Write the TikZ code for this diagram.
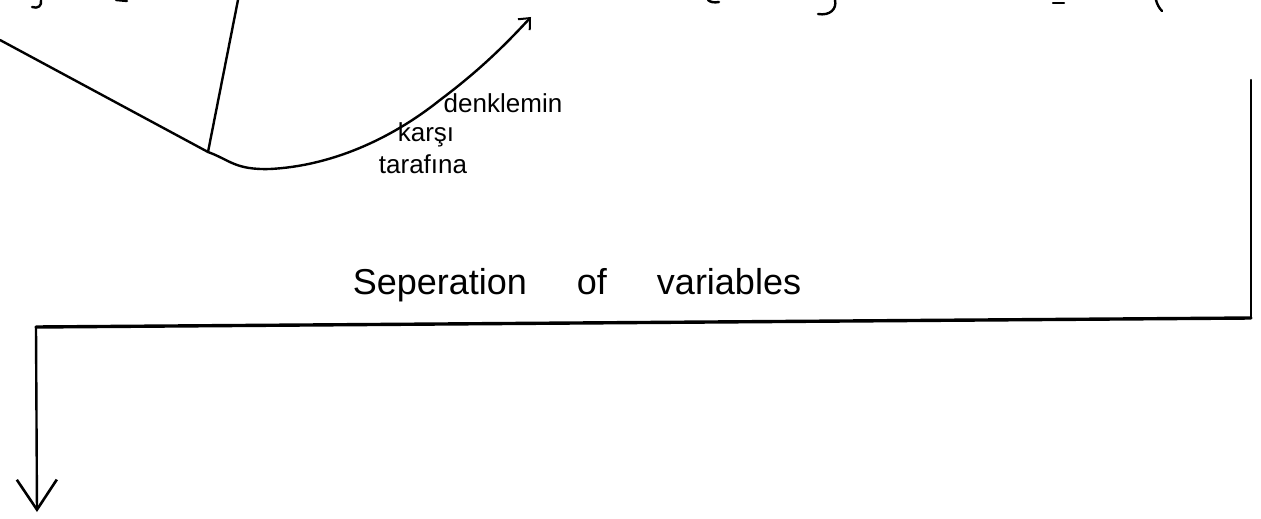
\documentclass[tikz,border=0pt]{standalone}
\usepackage{fontspec}
\setmainfont{Liberation Sans}
\usetikzlibrary{arrows.meta}
\begin{document}
\begin{tikzpicture}[x=1pt,y=-1pt,
  pen/.style={line width=2.4pt,line cap=round,line join=round},
  thick pen/.style={line width=3.4pt,line cap=round},
  note/.style={inner sep=0pt,font=\fontsize{26}{28}\selectfont},
  title/.style={inner sep=0pt,font=\fontsize{36}{38}\selectfont}]
\useasboundingbox (0,0) rectangle (1261,519);
\fill[white] (0,0) rectangle (1261,519);
% named points
\coordinate (lefttop) at (0,40);
\coordinate (junction) at (208,152);
\coordinate (stemtop) at (238,0);
\coordinate (curvetip) at (531,17);
\coordinate (righttop) at (1251,80);
\coordinate (rightcorner) at (1251,318);
\coordinate (leftcorner) at (36,327);
\coordinate (downtip) at (37,512);
% V shape and stem
\draw[pen] (lefttop) -- (junction);
\draw[pen] (junction) -- (stemtop);
% curve with arrow
\draw[pen,-{Straight Barb[length=9pt,width=16pt,line width=2pt]}]
  (junction) .. controls (230,160) and (235,170) .. (270,169)
  .. controls (330,166) and (390,140) .. (440,100)
  .. controls (480,70) and (505,45) .. (curvetip);
% labels
\node[note] (t1) at (503,103) {denklemin};
\node[note] (t2) at (426,135) {karşı};
\node[note] (t3) at (423,164) {tarafına};
\node[title] (t4) at (577,285) {Seperation\hspace{50pt}of\hspace{50pt}variables};
% frame connectors
\draw[pen] (righttop) -- (rightcorner);
\draw[thick pen] (rightcorner) -- (leftcorner);
\draw[pen,-{Straight Barb[length=30pt,width=40pt,line width=2.6pt]}] (leftcorner) -- (downtip);
% cut-off strokes at the top edge
\draw[pen] (41,0) .. controls (42,6) and (38,9) .. (32,7);
\draw[pen] (116,0) -- (127,1);
\draw[pen] (708,0) .. controls (710,2) and (714,3) .. (719,2);
\draw[pen] (835,0) .. controls (837,9) and (830,16) .. (818,14);
\draw[pen] (1053,3) -- (1064,3);
\draw[pen] (1156,0) .. controls (1157,4) and (1159,8) .. (1162,11);
\end{tikzpicture}
\end{document}
